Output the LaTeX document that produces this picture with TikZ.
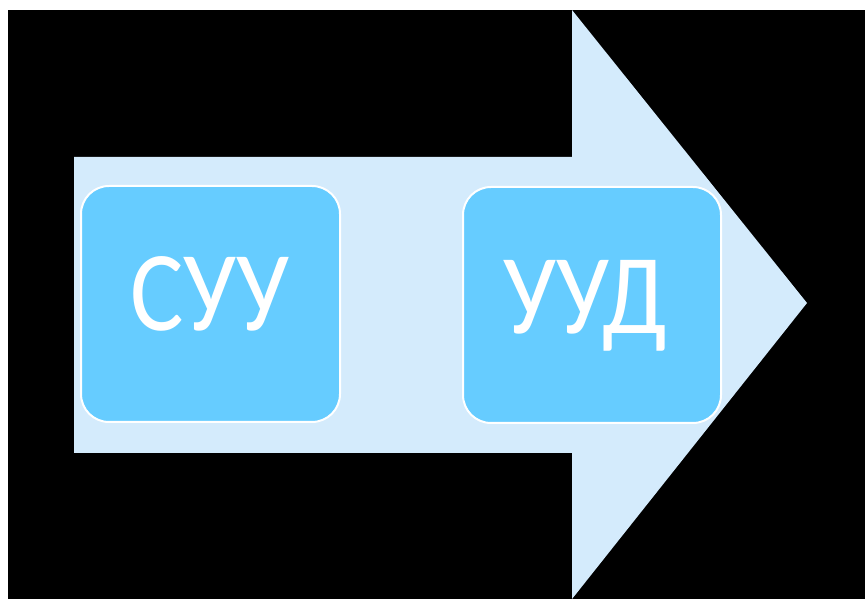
\documentclass[tikz,border=0pt]{standalone}
\usepackage{fontspec}
\setmainfont{Carlito}
\definecolor{arrowfill}{HTML}{D4EBFC}
\definecolor{boxfill}{HTML}{66CCFF}
\begin{document}
\begin{tikzpicture}[x=1pt,y=1pt,
  box/.style={draw=white, line width=2pt, fill=boxfill, rounded corners=28pt},
  lbl/.style={text=white, font=\fontsize{114}{114}\selectfont, inner sep=0pt, xscale=0.88}]
\useasboundingbox (0,0) rectangle (865,599);
\fill[white] (0,0) rectangle (865,599);
\fill[black] (8,0) rectangle (865,589);
\fill[arrowfill] (74,442) -- (572,442) -- (572,589) -- (807,296) -- (572,0) -- (572,146) -- (74,146) -- cycle;
\draw[box] (81,413) rectangle (340,177);
\draw[box] (463,412) rectangle (721,176);
\node[lbl, anchor=base] (suu) at (210,268) {СУУ};
\node[lbl, anchor=base] (uud) at (585,265) {УУД};
\end{tikzpicture}
\end{document}
